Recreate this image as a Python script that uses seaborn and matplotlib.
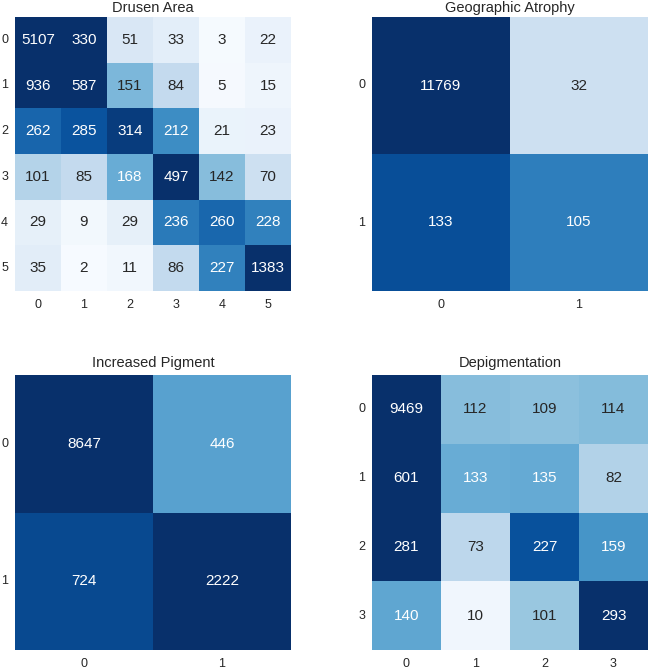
import numpy as np
import matplotlib
matplotlib.use("Agg")
import matplotlib.pyplot as plt
import seaborn as sns

# confusion matrices (rows = true, cols = predicted)
drusen_area = [
    [5107, 330, 51, 33, 3, 22],
    [936, 587, 151, 84, 5, 15],
    [262, 285, 314, 212, 21, 23],
    [101, 85, 168, 497, 142, 70],
    [29, 9, 29, 236, 260, 228],
    [35, 2, 11, 86, 227, 1383],
]
geographic_atrophy = [
    [11769, 32],
    [133, 105],
]
increased_pigment = [
    [8647, 446],
    [724, 2222],
]
depigmentation = [
    [9469, 112, 109, 114],
    [601, 133, 135, 82],
    [281, 73, 227, 159],
    [140, 10, 101, 293],
]
titles = ["Drusen Area", "Geographic Atrophy", "Increased Pigment", "Depigmentation"]

sns.set_style("white")
plt.rcParams["font.family"] = ["Liberation Sans", "DejaVu Sans"]
plt.rcParams["text.color"] = "#262626"
plt.rcParams["xtick.color"] = "#262626"
plt.rcParams["ytick.color"] = "#262626"

fig = plt.figure(figsize=(6.49, 6.70), dpi=100)
W, H = 649, 670
# axes boxes in pixels: left, top, right, bottom
boxes = [(15, 17, 291, 291), (372, 17, 648, 291),
         (15, 375, 291, 650), (372, 375, 648, 650)]
# colour scale upper limit per panel
vmaxes = [330, 150, 800, 260]
title_pads = [3.5, 3.5, 6, 6]

mats = [drusen_area, geographic_atrophy, increased_pigment, depigmentation]
for mat, title, box, vmax, tp in zip(mats, titles, boxes, vmaxes, title_pads):
    l, t, r, b = box
    ax = fig.add_axes([l / W, 1 - b / H, (r - l) / W, (b - t) / H])
    data = np.array(mat)
    sns.heatmap(data, ax=ax, annot=True, fmt="d", cmap="Blues", vmin=0, vmax=vmax,
                cbar=False, annot_kws={"size": 11})
    ax.set_aspect("auto")
    ax.set_title(title, fontsize=10.5, pad=tp)
    ax.tick_params(axis="both", length=0, labelsize=9)
    ax.tick_params(axis="x", pad=5.5)
    ax.tick_params(axis="y", pad=5)
    ax.set_yticklabels(ax.get_yticklabels(), rotation=0)

fig.savefig("out.png", dpi=100)
